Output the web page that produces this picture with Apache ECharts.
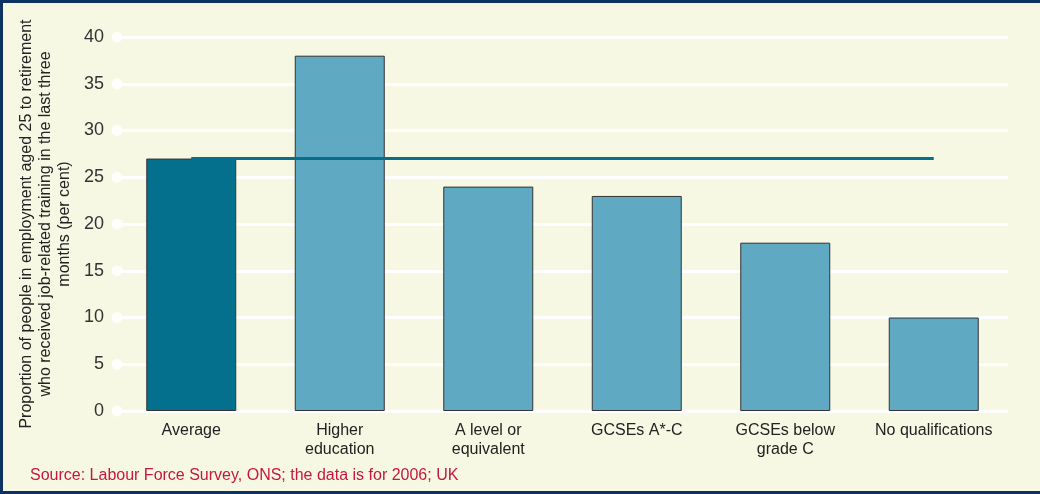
<!DOCTYPE html>
<html>
<head>
<meta charset="utf-8">
<script src="https://cdn.jsdelivr.net/npm/echarts@6/dist/echarts.min.js"></script>
<style>
  html, body { margin: 0; padding: 0; background: #0b3463; }
  #myChart { position: absolute; left: 3px; top: 3px; width: 1037px; height: 488px; background: #f7f8e4; }
</style>
</head>
<body>
<div id="myChart"></div>
<script>
// data
var categories = ['Average', 'Higher\neducation', 'A level or\nequivalent', 'GCSEs A*-C', 'GCSEs below\ngrade C', 'No qualifications'];
var trainingShare = [27, 38, 24, 23, 18, 10];
var averageLine = [27, 27, 27, 27, 27, 27];
var yTicks = [0, 5, 10, 15, 20, 25, 30, 35, 40];

var myChart = echarts.init(document.getElementById('myChart'));

// first bar (average) is darker
var barData = trainingShare.map(function(v, i) {
	return {
		value: v,
		itemStyle: { color: i === 0 ? '#05708d' : '#5fa9c2' }
	};
});

var option = {
	backgroundColor: '#f7f8e4',
	animation: false,
	textStyle: { fontFamily: 'Liberation Sans, Arial, sans-serif' },
	graphic: [{
		type: 'text',
		left: 27,
		top: 465,
		style: {
			text: 'Source: Labour Force Survey, ONS; the data is for 2006; UK',
			fill: '#c8163f',
			font: '16px Liberation Sans, Arial, sans-serif'
		}
	}],
	grid: { left: 114, top: 34, width: 891, height: 374, outerBoundsMode: 'none', containLabel: false },
	xAxis: [{
		type: 'category',
		data: categories,
		axisLine: { show: false },
		axisTick: { show: false },
		axisLabel: { color: '#222', fontSize: 16, lineHeight: 19, margin: 10, interval: 0 }
	}, {
		type: 'value',
		min: 0,
		max: 1,
		show: false
	}],
	yAxis: {
		type: 'value',
		min: 0,
		max: 40,
		interval: 5,
		name: 'Proportion of people in employment aged 25 to retirement\nwho received job-related training in the last three\nmonths (per cent)',
		nameLocation: 'middle',
		nameRotate: 90,
		nameGap: 43,
		nameMoveOverlap: false,
		nameTextStyle: { color: '#222', fontSize: 16, lineHeight: 19 },
		axisLine: { show: false },
		axisTick: { show: false },
		axisLabel: { color: '#333', fontSize: 18, margin: 13 },
		splitLine: { lineStyle: { color: '#ffffff', width: 3 } }
	},
	series: [{
		name: 'share',
		type: 'bar',
		data: barData,
		barWidth: 90,
		itemStyle: { borderColor: '#333', borderWidth: 1 },
		z: 2
	}, {
		name: 'average',
		type: 'line',
		data: averageLine,
		symbol: 'none',
		lineStyle: { color: '#05708d', width: 3 },
		z: 3
	}, {
		// white dots at the start of each gridline
		name: 'dots',
		type: 'scatter',
		xAxisIndex: 1,
		data: yTicks.map(function(t) { return [0, t]; }),
		symbolSize: 11,
		itemStyle: { color: '#ffffff' },
		clip: false,
		silent: true,
		z: 1
	}]
};
myChart.setOption(option);
</script>
</body>
</html>
